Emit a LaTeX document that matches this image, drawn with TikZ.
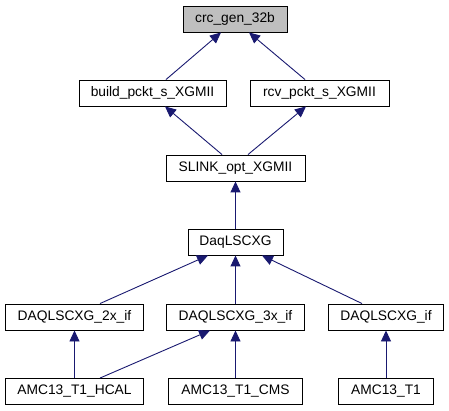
\documentclass[tikz,border=0pt]{standalone}
\usepackage{fontspec}
\setmainfont{Liberation Sans}
\usetikzlibrary{arrows.meta}
\definecolor{edgeblue}{HTML}{191970}
\definecolor{basegray}{HTML}{BFBFBF}
\begin{document}
\begin{tikzpicture}[x=1pt,y=-1pt,
  cls/.style={draw=black,line width=0.9pt,fill=white,minimum height=26pt,
    inner sep=0pt,font=\fontsize{13.8}{16}\selectfont},
  inh/.style={draw=edgeblue,line width=0.9pt,
    -{Triangle[length=11pt,width=10pt,fill=edgeblue]}}]
  \useasboundingbox (0,0) rectangle (449,411);
  \node[cls,fill=basegray,minimum width=104pt](crc) at (235,19) {crc\_gen\_32b};
  \node[cls,minimum width=147pt](build) at (152.5,93) {build\_pckt\_s\_XGMII};
  \node[cls,minimum width=139pt](rcv) at (319.5,93) {rcv\_pckt\_s\_XGMII};
  \node[cls,minimum width=139pt](slink) at (235.5,168) {SLINK\_opt\_XGMII};
  \node[cls,minimum width=95pt](daq) at (235.5,242) {DaqLSCXG};
  \node[cls,minimum width=138pt](daq2x) at (74.5,317) {DAQLSCXG\_2x\_if};
  \node[cls,minimum width=138pt](daq3x) at (235.5,317) {DAQLSCXG\_3x\_if};
  \node[cls,minimum width=115pt](daqif) at (386,317) {DAQLSCXG\_if};
  \node[cls,minimum width=138pt](hcal) at (74.5,391.5) {AMC13\_T1\_HCAL};
  \node[cls,minimum width=134pt](cms) at (235.5,391.5) {AMC13\_T1\_CMS};
  \node[cls,minimum width=95pt](tone) at (386,391.5) {AMC13\_T1};
  \draw[inh] ([xshift=13.5pt]build.north) -- ([xshift=-14pt]crc.south);
  \draw[inh] ([xshift=-14.5pt]rcv.north) -- ([xshift=14pt]crc.south);
  \draw[inh] ([xshift=-13.5pt]slink.north) -- ([xshift=12.5pt]build.south);
  \draw[inh] ([xshift=12.5pt]slink.north) -- ([xshift=-13.5pt]rcv.south);
  \draw[inh] (daq) -- (slink);
  \draw[inh] ([xshift=25.5pt]daq2x.north) -- ([xshift=-27.5pt]daq.south);
  \draw[inh] (daq3x) -- (daq);
  \draw[inh] ([xshift=-24pt]daqif.north) -- ([xshift=26.5pt]daq.south);
  \draw[inh] (hcal) -- (daq2x);
  \draw[inh] ([xshift=25.5pt]hcal.north) -- ([xshift=-25.5pt]daq3x.south);
  \draw[inh] (cms) -- (daq3x);
  \draw[inh] (tone) -- (daqif);
\end{tikzpicture}
\end{document}
